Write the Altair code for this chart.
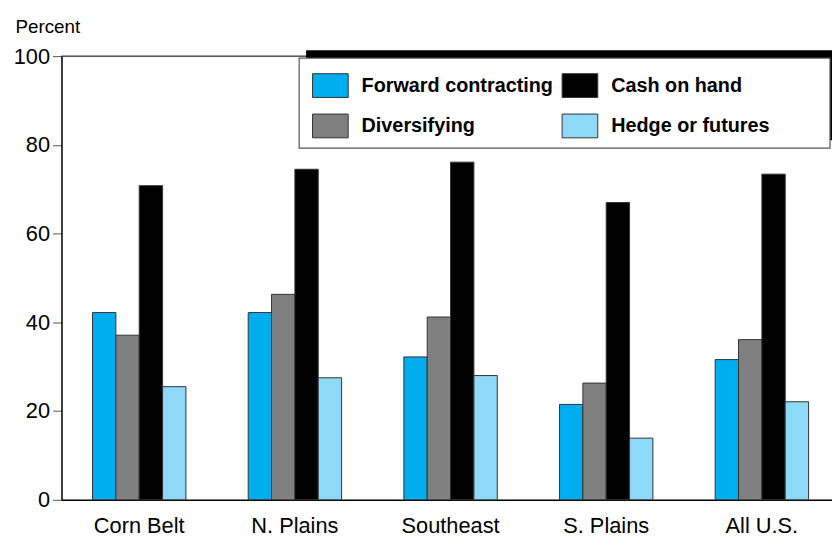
import altair as alt
import pandas as pd

regions = ["Corn Belt", "N. Plains", "Southeast", "S. Plains", "All U.S."]
methods = ["Forward contracting", "Diversifying", "Cash on hand", "Hedge or futures"]
colors = {"Forward contracting": "#00AEEF", "Cash on hand": "#000000",
          "Diversifying": "#808080", "Hedge or futures": "#8ED8F8"}

forward = [42.2, 42.2, 32.2, 21.5, 31.6]
diversifying = [37.1, 46.3, 41.2, 26.3, 36.1]
cash = [70.8, 74.5, 76.1, 67.0, 73.4]
hedge = [25.5, 27.5, 28.0, 13.9, 22.1]

series = {"Forward contracting": forward, "Diversifying": diversifying,
          "Cash on hand": cash, "Hedge or futures": hedge}
rows = []
for m in methods:
    for r, v in zip(regions, series[m]):
        rows.append({"region": r, "method": m, "value": v})
df = pd.DataFrame(rows)

FONT = "Liberation Sans"

bars = alt.Chart(df).mark_bar(stroke="#333333", strokeWidth=1).encode(
    x=alt.X("region:N", sort=regions,
            scale=alt.Scale(paddingInner=0.4, paddingOuter=0.175, align=0.57),
            axis=alt.Axis(title=None, labelAngle=0, ticks=False, tickSize=0,
                          labelPadding=16, labelFontSize=22, labelColor="black",
                          domainColor="black", domainWidth=1.5, labelFont=FONT)),
    xOffset=alt.XOffset("method:N", sort=methods, scale=alt.Scale(paddingInner=0, paddingOuter=0)),
    y=alt.Y("value:Q", scale=alt.Scale(domain=[0, 100]),
            axis=alt.Axis(title="Percent", values=[0, 20, 40, 60, 80, 100], grid=False,
                          tickSize=9, tickColor="#555555", labelPadding=3,
                          labelFontSize=22, labelColor="black", labelFont=FONT,
                          domainColor="black", domainWidth=1.5,
                          titleAngle=0, titleAlign="left", titleBaseline="alphabetic",
                          titleX=-47, titleY=-24, titleFontSize=19,
                          titleFontWeight="normal", titleColor="black", titleFont=FONT)),
    color=alt.Color("method:N",
                    scale=alt.Scale(domain=methods, range=[colors[k] for k in methods]),
                    legend=alt.Legend(title=None, orient="none", legendX=259, legendY=17,
                                      columns=2, columnPadding=6, rowPadding=12,
                                      symbolType="M-1.5,-1H1.5V1H-1.5Z", symbolSize=576,
                                      symbolStrokeColor="#333333", symbolStrokeWidth=1,
                                      symbolOpacity=1, labelOffset=19,
                                      labelFontSize=20, labelFontWeight="bold",
                                      labelFont=FONT, labelColor="black", padding=0,
                                      labelLimit=400)),
)

one = pd.DataFrame({"k": [1]})
top_rule = alt.Chart(one).mark_rule(color="black", strokeWidth=1).encode(
    y=alt.datum(100))
shadow = alt.Chart(one).mark_rect(color="black").encode(
    x=alt.value(247), x2=alt.value(790), y=alt.value(-6), y2=alt.value(85))
box = alt.Chart(one).mark_rect(fill="white", stroke="#555555", strokeWidth=1.2).encode(
    x=alt.value(240), x2=alt.value(776), y=alt.value(2), y2=alt.value(93))

chart = alt.layer(bars, top_rule, shadow, box).properties(
    width=778, height=448,
    autosize=alt.AutoSizeParams(type="none"),
    padding={"left": 54, "top": 46, "right": 0, "bottom": 37},
).configure_view(stroke=None).configure(font=FONT)

chart.save("out.html", embed_options={"renderer": "svg", "actions": False})
